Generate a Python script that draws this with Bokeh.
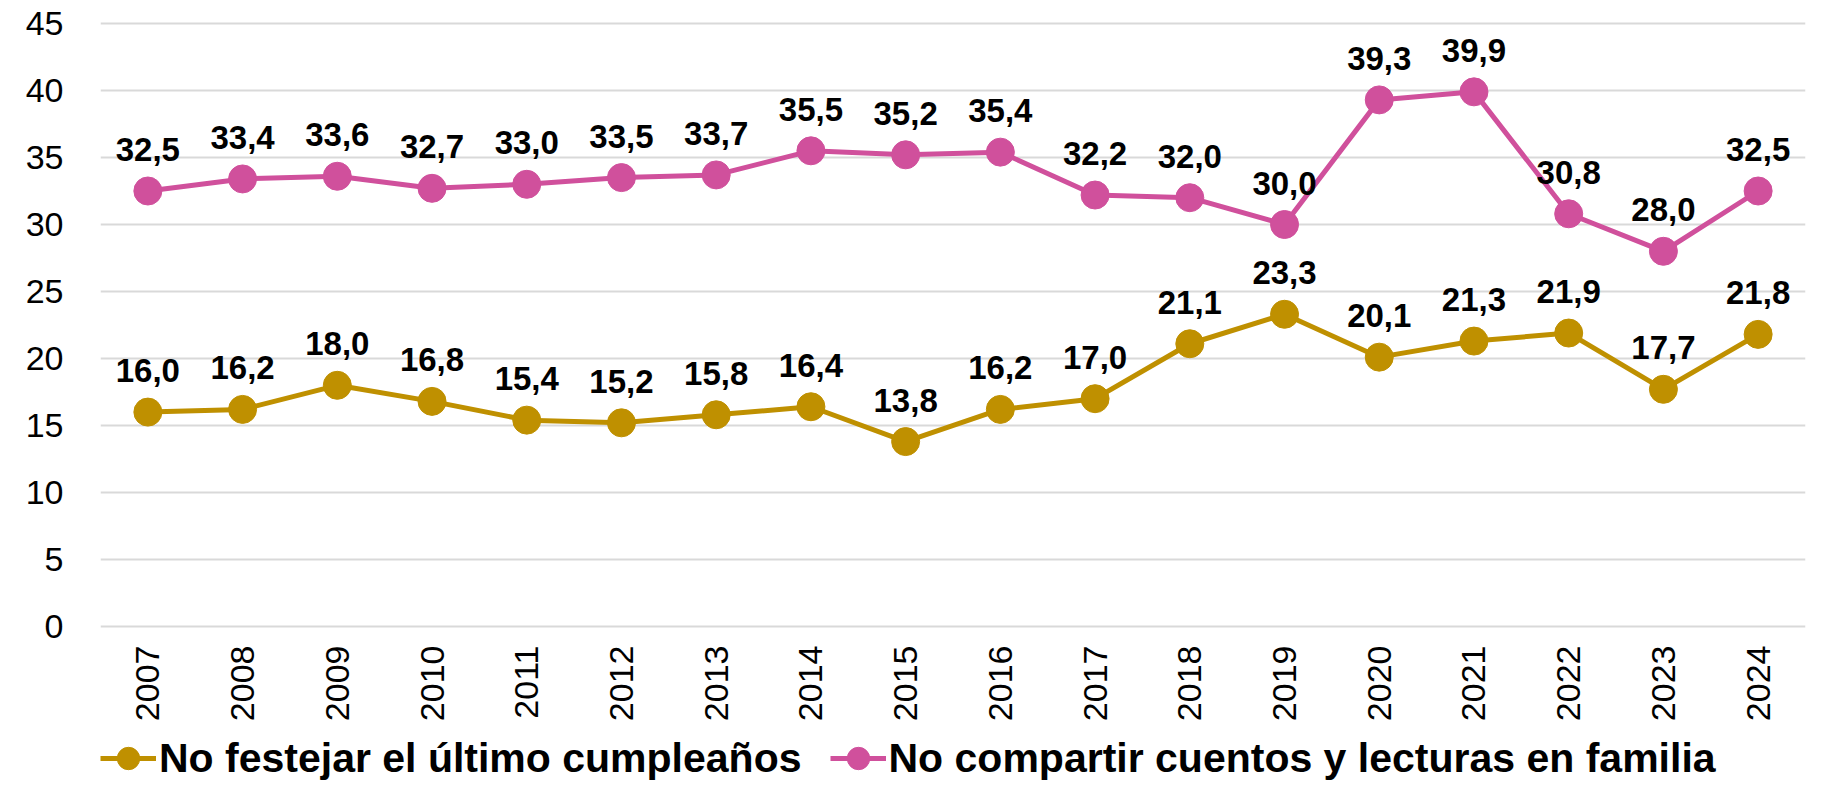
import math
from bokeh.plotting import figure
from bokeh.layouts import column
from bokeh.models import (ColumnDataSource, Legend, LegendItem, LabelSet,
                          FixedTicker, Range1d, FactorRange)
from bokeh.core.properties import value
from bokeh.embed import file_html
from bokeh.resources import INLINE

# ---- data ----
years = [str(y) for y in range(2007, 2025)]
festejar = [16.0, 16.2, 18.0, 16.8, 15.4, 15.2, 15.8, 16.4, 13.8, 16.2,
            17.0, 21.1, 23.3, 20.1, 21.3, 21.9, 17.7, 21.8]
compartir = [32.5, 33.4, 33.6, 32.7, 33.0, 33.5, 33.7, 35.5, 35.2, 35.4,
             32.2, 32.0, 30.0, 39.3, 39.9, 30.8, 28.0, 32.5]
y_ticks = [0, 5, 10, 15, 20, 25, 30, 35, 40, 45]
series_names = ["No festejar el último cumpleaños",
                "No compartir cuentos y lecturas en familia"]
colors = ["#BF9000", "#D0509C"]
series_cols = ["festejar", "compartir"]


def fmt(v):
    return f"{v:.1f}".replace(".", ",")


source = ColumnDataSource(data=dict(
    year=years,
    festejar=festejar,
    compartir=compartir,
    festejar_lbl=[fmt(v) for v in festejar],
    compartir_lbl=[fmt(v) for v in compartir],
))

FONT = "Liberation Sans"
LINE_W = 5
MARKER = 28

# ---------------- main chart ----------------
p = figure(width=1807, height=724,
           x_range=FactorRange(*years), y_range=Range1d(-0.15, 45.15),
           output_backend="svg", toolbar_location=None,
           min_border_left=80, min_border_right=2, min_border_top=21,
           min_border_bottom=0)
p.outline_line_color = None
p.background_fill_color = "white"
p.border_fill_color = "white"

p.yaxis.ticker = FixedTicker(ticks=y_ticks)
for ax in (p.xaxis[0], p.yaxis[0]):
    ax.axis_line_color = None
    ax.major_tick_line_color = None
    ax.minor_tick_line_color = None
    ax.major_label_text_font = FONT
    ax.major_label_text_font_size = "34px"
    ax.major_label_text_color = "#000000"
p.yaxis.major_label_standoff = 31
p.xaxis.major_label_standoff = 11
p.xaxis.major_label_orientation = math.pi / 2

p.xgrid.grid_line_color = None
p.ygrid.grid_line_color = "#D9D9D9"
p.ygrid.grid_line_width = 2

for col, color in zip(series_cols, colors):
    p.line(x="year", y=col, source=source, line_color=color, line_width=LINE_W)
    p.scatter(x="year", y=col, source=source, size=MARKER,
              fill_color=color, line_color=color)
    labels = LabelSet(x="year", y=col, text=col + "_lbl", source=source,
                      y_offset=30, text_align="center",
                      text_baseline="alphabetic",
                      text_font=value(FONT), text_font_size="33px",
                      text_font_style="bold", text_color="#000000")
    p.add_layout(labels)

# ---------------- legend strip ----------------
# same series, drawn off-range so only the legend shows
q = figure(width=1807, height=64,
           x_range=FactorRange(*years), y_range=Range1d(1000, 1001),
           output_backend="svg", toolbar_location=None,
           x_axis_type=None, y_axis_type=None,
           min_border_left=100, min_border_right=0, min_border_top=0,
           min_border_bottom=0)
q.outline_line_color = None
q.grid.visible = False
q.border_fill_color = "white"

items = []
for col, color, name in zip(series_cols, colors, series_names):
    ln = q.line(x="year", y=col, source=source, line_color=color,
                line_width=LINE_W)
    sc = q.scatter(x="year", y=col, source=source, size=MARKER,
                   fill_color=color, line_color=color)
    items.append(LegendItem(label=name, renderers=[ln, sc]))

legend = Legend(items=items, orientation="horizontal", location="bottom_left")
legend.label_text_font = FONT
legend.label_text_font_size = "41px"
legend.label_text_font_style = "bold"
legend.label_text_color = "#000000"
legend.label_standoff = 3
legend.glyph_width = 56
legend.glyph_height = 60
legend.label_height = 40
legend.spacing = 28
legend.padding = 0
legend.margin = 0
legend.border_line_color = None
legend.background_fill_alpha = 0
q.add_layout(legend)

layout = column(p, q, spacing=0)
open("out.html", "w").write(file_html(layout, INLINE))
